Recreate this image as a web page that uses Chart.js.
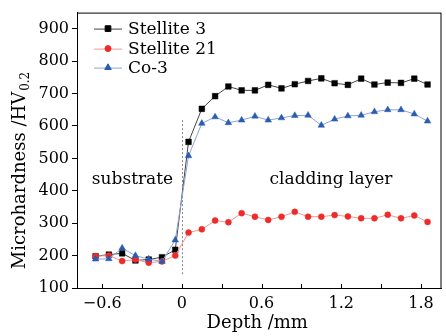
<!DOCTYPE html>
<html><head><meta charset="utf-8">
<script src="https://cdn.jsdelivr.net/npm/chart.js@4.4.1/dist/chart.umd.min.js"></script>
<style>html,body{margin:0;padding:0;background:#fff;overflow:hidden}canvas{display:block}</style>
</head><body><canvas id="c" width="446" height="336"></canvas>
<script>
// ---- data ----
const depth = [-0.65,-0.55,-0.45,-0.35,-0.25,-0.15,-0.05,
  0.05,0.15,0.25,0.35,0.45,0.55,0.65,0.75,0.85,0.95,1.05,1.15,1.25,1.35,1.45,1.55,1.65,1.75,1.85];
const stellite3 = [198,203,207,185,188,195,218,
  551,653,692,722,710,710,727,716,729,739,747,732,727,746,728,734,733,746,728];
const stellite21 = [198,200,183,188,178,182,200,
  271,281,308,303,331,320,310,320,335,320,320,325,321,315,315,326,315,324,304];
const co3 = [189,190,223,200,189,182,248,
  508,608,628,610,618,630,618,625,632,633,602,621,631,633,644,650,650,637,615];
const seriesNames = ['Stellite 3','Stellite 21','Co-3'];
const xTicks = [-0.6,-0.3,0,0.3,0.6,0.9,1.2,1.5,1.8];
const yTicks = [100,200,300,400,500,600,700,800,900];
const regionLabels = ['substrate','cladding layer'];
const xTitle = 'Depth /mm';
const yTitleMain = 'Microhardness /HV';
const yTitleSub = '0.2';

const FONT = "'DejaVu Serif', serif";
Chart.defaults.font.family = FONT;
Chart.defaults.color = '#000';

const toPts = arr => arr.map((v,i)=>({x:depth[i], y:v}));

const styles = [
  {line:'#444444', point:'#000000', shape:'rect', r:4},
  {line:'#f3978d', point:'#ee2b2b', shape:'circle', r:3},
  {line:'#8fa3dc', point:'#2a5cb0', shape:'triangle', r:3.8}
];
const allSeries = [stellite3, stellite21, co3];

const datasets = allSeries.map((s,i)=>({
  label: seriesNames[i],
  data: toPts(s),
  showLine: true,
  borderColor: styles[i].line,
  borderWidth: 1,
  pointStyle: styles[i].shape,
  pointRadius: styles[i].r,
  pointBackgroundColor: styles[i].point,
  pointBorderColor: styles[i].point,
  pointBorderWidth: 0.5,
  tension: 0,
  order: 2 - i
}));

function fmtX(v){
  if (Math.abs(v) < 1e-9) return '0';
  const s = Math.abs(v).toFixed(1);
  return v < 0 ? '\u2212' + s : s;
}

const decor = {
  id: 'decor',
  beforeDatasetsDraw(chart){
    const {ctx, scales:{x,y}} = chart;
    ctx.save();
    ctx.strokeStyle = '#888'; ctx.lineWidth = 1; ctx.setLineDash([2,2]);
    const px = Math.round(x.getPixelForValue(0)) + 0.5;
    ctx.beginPath();
    ctx.moveTo(px, y.getPixelForValue(618));
    ctx.lineTo(px, y.getPixelForValue(140));
    ctx.stroke();
    ctx.restore();
  },
  afterDraw(chart){
    const {ctx, chartArea:a, scales:{x,y}} = chart;
    ctx.save();
    // frame
    ctx.strokeStyle = '#000'; ctx.lineWidth = 1;
    ctx.strokeRect(a.left + 0.5, a.top + 0.5, a.right - a.left - 1, a.bottom - a.top);
    // inward x ticks
    ctx.beginPath();
    xTicks.forEach(t=>{
      const px = Math.round(x.getPixelForValue(t)) + 0.5;
      ctx.moveTo(px, a.bottom); ctx.lineTo(px, a.bottom - 4);
    });
    ctx.stroke();
    // region labels
    ctx.fillStyle = '#000';
    ctx.font = '17px ' + FONT;
    ctx.textAlign = 'center'; ctx.textBaseline = 'middle';
    ctx.fillText(regionLabels[0], x.getPixelForValue(-0.372), y.getPixelForValue(436));
    ctx.fillText(regionLabels[1], x.getPixelForValue(1.123), y.getPixelForValue(436));
    // x title
    ctx.font = '18px ' + FONT;
    ctx.fillText(xTitle, (a.left + a.right)/2 - 2, 323);
    // y title with subscript
    ctx.save();
    ctx.translate(20, 171);
    ctx.rotate(-Math.PI/2);
    ctx.font = '18px ' + FONT;
    const w1 = ctx.measureText(yTitleMain).width;
    ctx.font = '12px ' + FONT;
    const w2 = ctx.measureText(yTitleSub).width;
    const start = -(w1 + w2)/2;
    ctx.textAlign = 'left';
    ctx.font = '18px ' + FONT;
    ctx.fillText(yTitleMain, start, 0);
    ctx.font = '12px ' + FONT;
    ctx.fillText(yTitleSub, start + w1 + 1, 6);
    ctx.restore();
    // legend
    const rows = [16, 36, 55];
    chart.data.datasets.forEach((ds,i)=>{
      const cy = a.top + rows[i];
      ctx.strokeStyle = ds.borderColor; ctx.lineWidth = 1;
      ctx.beginPath(); ctx.moveTo(a.left + 17, cy + 0.5); ctx.lineTo(a.left + 45, cy + 0.5); ctx.stroke();
      ctx.fillStyle = ds.pointBackgroundColor; ctx.strokeStyle = ds.pointBorderColor;
      Chart.helpers.drawPoint(ctx, {pointStyle: ds.pointStyle, radius: ds.pointRadius, borderWidth: 0.5, rotation: 0}, a.left + 31, cy);
      ctx.fillStyle = '#000';
      ctx.font = '17px ' + FONT;
      ctx.textAlign = 'left'; ctx.textBaseline = 'middle';
      ctx.fillText(ds.label, a.left + 51, cy + 1);
    });
    ctx.restore();
  }
};

new Chart(document.getElementById('c'), {
  type: 'scatter',
  data: { datasets },
  options: {
    responsive: false,
    animation: false,
    devicePixelRatio: 1,
    layout: { padding: {top: 7, right: 0, left: 0, bottom: 0} },
    plugins: { legend: {display: false}, tooltip: {enabled: false} },
    scales: {
      x: {
        type: 'linear', min: -0.79, max: 1.955,
        afterBuildTicks: s => { s.ticks = xTicks.map(v=>({value:v})); },
        afterFit: s => { s.height = 48; },
        grid: { display: false, drawTicks: false },
        border: { display: true, color: '#000', width: 1 },
        ticks: {
          padding: 6, maxRotation: 0, autoSkip: false,
          font: {size: 16, family: FONT}, color: '#000',
          callback: v => (Math.abs((v/0.6) - Math.round(v/0.6)) < 1e-6 ? fmtX(v) : '')
        }
      },
      y: {
        type: 'linear', min: 100, max: 950,
        afterBuildTicks: s => { s.ticks = yTicks.map(v=>({value:v})); },
        afterFit: s => { s.width = 77; },
        grid: { display: true, drawOnChartArea: false, drawTicks: true, tickLength: 5, color: '#000' },
        border: { display: true, color: '#000', width: 1 },
        ticks: { padding: 3, autoSkip: false, font: {size: 16, family: FONT}, color: '#000',
          callback: v => String(v) }
      }
    }
  },
  plugins: [decor]
});
</script>
</body></html>
